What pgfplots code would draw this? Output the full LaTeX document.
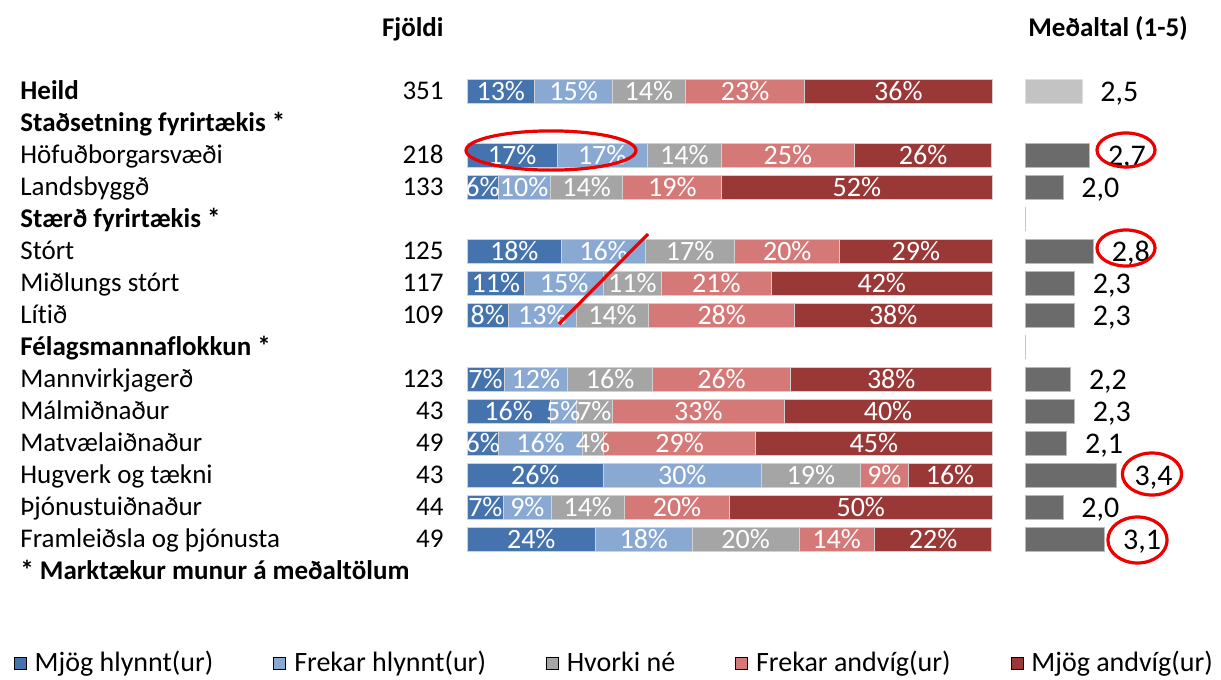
\documentclass[border=0pt]{standalone}
\usepackage{pgfplots}
\pgfplotsset{compat=1.18}
\usepackage{pgfplotstable}
\usepackage{fontspec}
\setmainfont{Carlito}[Ligatures={NoCommon}]

\definecolor{c1}{HTML}{4473AE}
\definecolor{c2}{HTML}{89A9D3}
\definecolor{c3}{HTML}{A5A5A5}
\definecolor{c4}{HTML}{D47977}
\definecolor{c5}{HTML}{9A3838}
\definecolor{mdark}{HTML}{6B6B6B}
\definecolor{mlight}{HTML}{C3C3C3}
\definecolor{anno}{HTML}{EE0000}

\pgfplotstableread{
row a b c d e m
0 13 15 14 23 36 2.5
2 17 17 14 25 26 2.7
3 6 10 14 19 52 2.0
5 18 16 17 20 29 2.8
6 11 15 11 21 42 2.3
7 8 13 14 28 38 2.3
9 7 12 16 26 38 2.2
10 16 5 7 33 40 2.3
11 6 16 4 29 45 2.1
12 26 30 19 9 16 3.4
13 7 9 14 20 50 2.0
14 24 18 20 14 22 3.1
}\data

\pgfplotstableread{
row m
4 1.0
8 1.0
}\empt

\newcommand{\tot}{(\thisrow{a}+\thisrow{b}+\thisrow{c}+\thisrow{d}+\thisrow{e})}

\begin{document}
\fontsize{13.5pt}{16pt}\selectfont
\begin{tikzpicture}[x=0.5pt,y=-0.5pt]
\path[use as bounding box] (0,0) rectangle (1221,680);

\pgfplotsset{
  rowaxis/.style={
    scale only axis, anchor=north west,
    height=240pt, ymin=-0.5, ymax=14.5, y dir=reverse,
    hide axis, clip=false,
  },
  lbl/.style={draw=none, mark=none,
    point meta=explicit symbolic,
    nodes near coords={\pgfplotspointmeta\%},
    every node near coord/.append style={anchor=center, text=white, inner sep=0pt,
      font=\fontsize{14pt}{16pt}\selectfont}}
}

% stacked bars
\begin{axis}[rowaxis, at={(233.5pt,-37.5pt)}, width=262.5pt,
  xmin=0, xmax=100, xbar stacked, bar width=12pt,
  every axis plot/.append style={draw=white!82!black, line width=0.5pt}]
\addplot[fill=c1] table[y=row, x expr={100*\thisrow{a}/\tot}] \data;
\addplot[fill=c2] table[y=row, x expr={100*\thisrow{b}/\tot}] \data;
\addplot[fill=c3] table[y=row, x expr={100*\thisrow{c}/\tot}] \data;
\addplot[fill=c4] table[y=row, x expr={100*\thisrow{d}/\tot}] \data;
\addplot[fill=c5] table[y=row, x expr={100*\thisrow{e}/\tot}] \data;
\end{axis}

% labels in the bars
\begin{axis}[rowaxis, at={(233.5pt,-37.5pt)}, width=262.5pt, xmin=0, xmax=100]
\addplot[lbl] table[y=row, meta=a, x expr={100*(\thisrow{a}/2)/\tot}] \data;
\addplot[lbl] table[y=row, meta=b, x expr={100*(\thisrow{a}+\thisrow{b}/2)/\tot}] \data;
\addplot[lbl] table[y=row, meta=c, x expr={100*(\thisrow{a}+\thisrow{b}+\thisrow{c}/2)/\tot}] \data;
\addplot[lbl] table[y=row, meta=d, x expr={100*(\thisrow{a}+\thisrow{b}+\thisrow{c}+\thisrow{d}/2)/\tot}] \data;
\addplot[lbl] table[y=row, meta=e, x expr={100*(\thisrow{a}+\thisrow{b}+\thisrow{c}+\thisrow{d}+\thisrow{e}/2)/\tot}] \data;
\end{axis}

% mean bars
\begin{axis}[rowaxis, at={(512.5pt,-37.5pt)}, width=76pt,
  xmin=0, xmax=4, xbar, bar width=12pt, bar shift=0pt,
  /pgf/number format/assume math mode=true,
  /pgf/number format/.cd, use comma, fixed, fixed zerofill, precision=1, /pgfplots/.cd,
  nodes near coords={\pgfmathprintnumber{\pgfplotspointmeta}},
  every node near coord/.append style={anchor=west, xshift=4.5pt, yshift=-1.2pt, text=black,
    font=\fontsize{15pt}{17pt}\selectfont}]
\addplot[fill=mdark, draw=gray!55, point meta=explicit,
  restrict y to domain=1:20] table[y=row, x expr={\thisrow{m}-1}, meta=m] \data;
\addplot[fill=mlight, draw=gray!25, point meta=explicit,
  restrict y to domain=-1:0.5] table[y=row, x expr={\thisrow{m}-1}, meta=m] \data;
\addplot[draw=gray!45, fill=none, nodes near coords={}] table[y=row, x expr={\thisrow{m}-1}] \empt;
\end{axis}

% legend
\begin{axis}[at={(0pt,-322.5pt)}, anchor=north west, scale only axis,
  width=610.5pt, height=20pt, hide axis,
  xmin=0, xmax=1, ymin=0, ymax=1,
  legend columns=5,
  legend style={at={(0.504,0.5)}, anchor=center, draw=none, fill=none,
    inner sep=0pt, font=\fontsize{14pt}{16pt}\selectfont,
    nodes={text depth=0.25em, text height=0.72em},
    /tikz/every odd column/.append style={column sep=2pt},
    /tikz/every even column/.append style={column sep=28pt}},
  legend image code/.code={\fill[#1] (0pt,-2.2pt) rectangle (6pt,3.8pt);}]
\addlegendimage{fill=c1}\addlegendentry{Mjög hlynnt(ur)}
\addlegendimage{fill=c2}\addlegendentry{Frekar hlynnt(ur)}
\addlegendimage{fill=c3}\addlegendentry{Hvorki né}
\addlegendimage{fill=c4}\addlegendentry{Frekar andvíg(ur)}
\addlegendimage{fill=c5}\addlegendentry{Mjög andvíg(ur)}
\end{axis}

% headers
\node[anchor=base east, inner sep=0pt, font=\bfseries] at (444,36) {Fjöldi};
\node[anchor=base, inner sep=0pt, font=\bfseries] at (1108,36) {Meðaltal (1-5)};

% row names and counts
\foreach \k/\n in {0/351, 2/218, 3/133, 5/125, 6/117, 7/109, 9/123,
  10/43, 11/49, 12/43, 13/44, 14/49}{
  \node[anchor=base east, inner sep=0pt] at (444,99+32*\k) {\n};
}
\foreach \k/\t in {2/Höfuðborgarsvæði, 3/Landsbyggð,
  5/Stórt, 6/Miðlungs stórt, 7/Lítið, 9/Mannvirkjagerð,
  10/Málmiðnaður, 11/Matvælaiðnaður, 12/Hugverk og tækni,
  13/Þjónustuiðnaður, 14/Framleiðsla og þjónusta}{
  \node[anchor=base west, inner sep=0pt] at (20,99+32*\k) {\t};
}
\foreach \k/\t in {0/Heild, 1/Staðsetning fyrirtækis *, 4/Stærð fyrirtækis *,
  8/Félagsmannaflokkun *, 15/* Marktækur munur á meðaltölum}{
  \node[anchor=base west, inner sep=0pt, font=\bfseries] at (20,99+32*\k) {\t};
}

% annotations
\begin{scope}[anno, line width=1.6pt]
\draw (551,150.5) ellipse [x radius=42.5pt, y radius=9.8pt];
\draw (1126,150) ellipse [x radius=14.5pt, y radius=8.5pt];
\draw (1126,248) ellipse [x radius=14.5pt, y radius=9pt];
\draw (1152,474) ellipse [x radius=14.8pt, y radius=10.5pt];
\draw (1137.5,540) ellipse [x radius=14.8pt, y radius=11.5pt];
\draw (648,234) -- (559,324);
\end{scope}
\end{tikzpicture}
\end{document}
